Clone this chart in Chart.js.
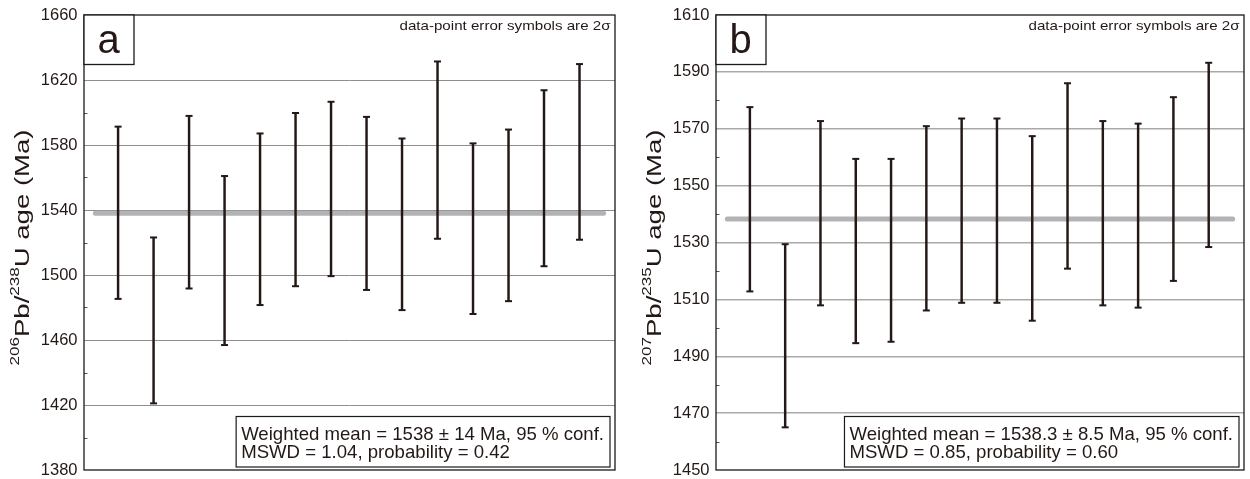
<!DOCTYPE html>
<html>
<head>
<meta charset="utf-8">
<script src="https://cdn.jsdelivr.net/npm/chart.js@4.4.1/dist/chart.umd.min.js"></script>
<style>
  html, body { margin: 0; padding: 0; background: #fff; }
  #wrap { position: relative; width: 1250px; height: 479px; }
  .panel { position: absolute; top: 0; }
</style>
</head>
<body>
<div id="wrap">
  <div class="panel" style="left:0"><canvas id="chartA" width="625" height="479"></canvas></div>
  <div class="panel" style="left:625px"><canvas id="chartB" width="625" height="479"></canvas></div>
</div>
<script>
// analysis number along the x axis
const points = [1, 2, 3, 4, 5, 6, 7, 8, 9, 10, 11, 12, 13, 14];

// panel a : 206Pb/238U ages, 2 sigma ends
const lowA  = [1485.3, 1421.0, 1491.7, 1456.9, 1481.5, 1493.1, 1499.3, 1490.8, 1478.4, 1522.3, 1476.0, 1483.9, 1505.4, 1521.7];
const highA = [1591.3, 1523.1, 1597.9, 1560.9, 1587.1, 1599.7, 1606.6, 1597.3, 1584.0, 1631.4, 1581.0, 1589.5, 1613.7, 1629.8];
const meanA = 1538;
const ticksA = { min: 1380, max: 1660, step: 20, labelEvery: 40 };

// panel b : 207Pb/235U ages, 2 sigma ends
const lowB  = [1512.8, 1465.0, 1507.9, 1494.6, 1495.1, 1506.1, 1508.8, 1508.8, 1502.5, 1520.8, 1507.9, 1507.1, 1516.5, 1528.4];
const highB = [1577.6, 1529.4, 1572.7, 1559.4, 1559.4, 1570.9, 1573.6, 1573.6, 1567.4, 1586.0, 1572.7, 1571.8, 1581.1, 1593.2];
const meanB = 1538.3;
const ticksB = { min: 1450, max: 1610, step: 10, labelEvery: 20 };

const statsA = ['Weighted mean = 1538 \u00b1 14 Ma, 95 % conf.', 'MSWD = 1.04, probability = 0.42'];
const statsB = ['Weighted mean = 1538.3 \u00b1 8.5 Ma, 95 % conf.', 'MSWD = 0.85, probability = 0.60'];
const noteText = 'data-point error symbols are 2\u03c3';

const FONT = '"Liberation Sans", Arial, Helvetica, sans-serif';
const ink = '#231815';

// extra drawing : frame, inner minor ticks, panel letter, note, stats box, axis title
const decorPlugin = {
  id: 'decor',
  afterDatasetsDraw(chart, args, o) {
    const ctx = chart.ctx;
    const a = chart.chartArea;
    const ys = chart.scales.y;
    ctx.save();

    // minor ticks on the left edge
    ctx.strokeStyle = '#555';
    ctx.lineWidth = 1;
    ys.ticks.forEach(t => {
      if ((t.value - o.ticks.min) % o.ticks.labelEvery !== 0) {
        const py = Math.round(ys.getPixelForValue(t.value)) + 0.5;
        ctx.beginPath();
        ctx.moveTo(a.left, py);
        ctx.lineTo(a.left + 3.5, py);
        ctx.stroke();
      }
    });

    // frame
    ctx.strokeStyle = '#1a1a1a';
    ctx.lineWidth = 1.3;
    ctx.strokeRect(a.left, a.top, a.right - a.left, a.bottom - a.top);

    // panel letter box
    ctx.fillStyle = '#fff';
    ctx.fillRect(a.left, a.top, 50, 49.5);
    ctx.strokeRect(a.left, a.top, 50, 49.5);
    ctx.fillStyle = ink;
    ctx.font = '40px ' + FONT;
    ctx.textAlign = 'center';
    ctx.textBaseline = 'alphabetic';
    ctx.fillText(o.letter, a.left + 24.5, a.top + 37.8);

    // note top right
    ctx.font = '13px ' + FONT;
    ctx.textAlign = 'right';
    const nw = ctx.measureText(noteText).width;
    ctx.save();
    ctx.translate(a.right - 4.5, a.top + 14.5);
    ctx.scale(211 / nw, 1);
    ctx.fillText(noteText, 0, 0);
    ctx.restore();

    // stats box
    ctx.font = '18.6px ' + FONT;
    ctx.textAlign = 'left';
    const tw = Math.max(...o.stats.map(s => ctx.measureText(s).width));
    const bw = tw + 11, bh = 50.5;
    const bx = a.right - 5 - bw, by = a.bottom - 3 - bh;
    ctx.fillStyle = '#fff';
    ctx.fillRect(bx, by, bw, bh);
    ctx.strokeStyle = '#1a1a1a';
    ctx.lineWidth = 1.2;
    ctx.strokeRect(bx, by, bw, bh);
    ctx.fillStyle = ink;
    ctx.fillText(o.stats[0], bx + 5, by + 23.5);
    ctx.fillText(o.stats[1], bx + 5, by + 41);

    // y axis title with superscripts, stretched along its length like the source
    const parts = o.title;
    const big = '21px ' + FONT, small = '13px ' + FONT;
    let total = 0;
    parts.forEach(p => { ctx.font = p.sup ? small : big; total += ctx.measureText(p.t).width; });
    ctx.translate(a.left - 55, (a.top + a.bottom) / 2 + 5);
    ctx.rotate(-Math.PI / 2);
    ctx.scale(236 / total, 1);
    let x = -total / 2;
    parts.forEach(p => {
      ctx.font = p.sup ? small : big;
      ctx.fillText(p.t, x, p.sup ? -10 : 0);
      x += ctx.measureText(p.t).width;
    });

    ctx.restore();
  }
};

function makePanel(canvasId, low, high, mean, tk, axisWidth, rightPad, gridColor, gridWidth, extra) {
  const barData = points.map((p, i) => ({ x: p, y: [low[i], high[i]] }));
  const topCaps = points.map((p, i) => ({ x: p, y: high[i] }));
  const lowCaps = points.map((p, i) => ({ x: p, y: low[i] }));

  return new Chart(document.getElementById(canvasId), {
    type: 'bar',
    data: {
      datasets: [
        {
          type: 'line',
          data: [{ x: 0.36, y: mean }, { x: 14.68, y: mean }],
          borderColor: '#b1b3b6',
          borderWidth: 5,
          borderCapStyle: 'round',
          pointRadius: 0,
          order: 5
        },
        {
          type: 'bar',
          data: barData,
          backgroundColor: ink,
          borderWidth: 0,
          barThickness: 1.8,
          order: 2
        },
        {
          type: 'scatter',
          data: topCaps,
          pointStyle: 'line',
          radius: 3.5,
          borderWidth: 2,
          borderColor: ink,
          order: 1
        },
        {
          type: 'scatter',
          data: lowCaps,
          pointStyle: 'line',
          radius: 3.5,
          borderWidth: 2,
          borderColor: ink,
          order: 1
        }
      ]
    },
    options: {
      responsive: false,
      animation: false,
      events: [],
      layout: { padding: { top: 15, bottom: 9, left: 0, right: rightPad } },
      plugins: {
        legend: { display: false },
        tooltip: { enabled: false },
        decor: extra
      },
      scales: {
        x: {
          type: 'linear',
          display: false,
          offset: false,
          min: 0.04,
          max: 15,
          grid: { display: false }
        },
        y: {
          type: 'linear',
          min: tk.min,
          max: tk.max,
          afterFit: (s) => {
            s.width = axisWidth;
            s.paddingTop = 0;
            s.paddingBottom = 0;
          },
          border: { display: false },
          grid: {
            drawTicks: false,
            lineWidth: gridWidth,
            color: (c) => {
              const v = c.tick.value;
              if (v === tk.min || v === tk.max) return 'rgba(0,0,0,0)';
              return (v - tk.min) % tk.labelEvery === 0 ? gridColor : 'rgba(0,0,0,0)';
            }
          },
          ticks: {
            stepSize: tk.step,
            padding: 6.5,
            color: ink,
            font: { family: FONT, size: 16.5 },
            callback: (v) => ((v - tk.min) % tk.labelEvery === 0 ? String(v) : '')
          }
        }
      }
    },
    plugins: [decorPlugin]
  });
}

makePanel('chartA', lowA, highA, meanA, ticksA, 84, 10, '#8e8e8e', 1, {
  letter: 'a',
  ticks: ticksA,
  stats: statsA,
  title: [{ t: '206', sup: true }, { t: 'Pb/' }, { t: '238', sup: true }, { t: 'U age (Ma)' }]
});

makePanel('chartB', lowB, highB, meanB, ticksB, 91, 3, '#a9a9a9', 1.5, {
  letter: 'b',
  ticks: ticksB,
  stats: statsB,
  title: [{ t: '207', sup: true }, { t: 'Pb/' }, { t: '235', sup: true }, { t: 'U age (Ma)' }]
});
</script>
</body>
</html>
